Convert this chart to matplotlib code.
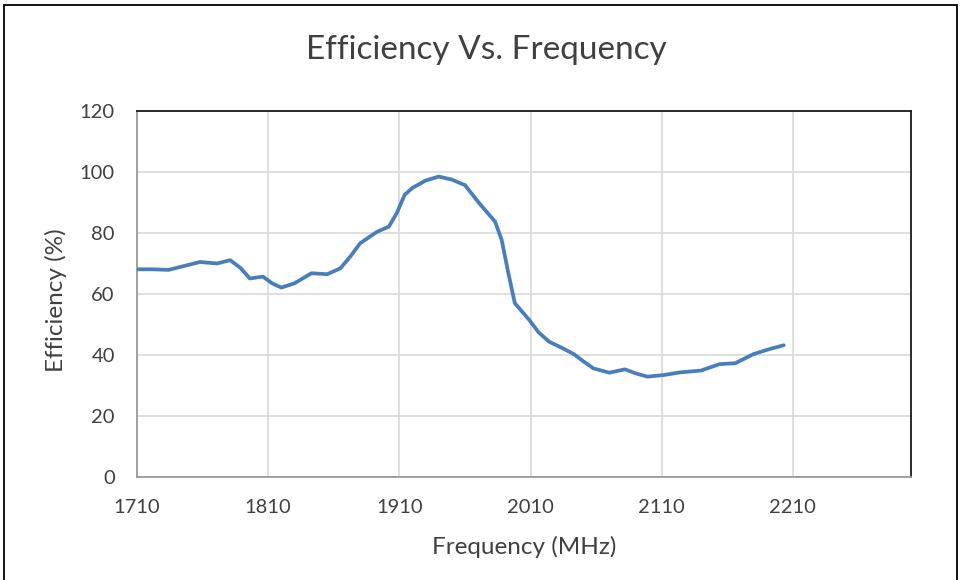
import matplotlib
matplotlib.use("Agg")
import matplotlib.pyplot as plt
from matplotlib.patches import Rectangle

freq_mhz = [1710, 1722, 1734, 1746, 1758, 1771, 1781, 1789, 1796, 1806, 1813, 1820,
            1830, 1843, 1855, 1865, 1873, 1880, 1893, 1902, 1908, 1914, 1920, 1930,
            1940, 1950, 1960, 1971, 1983, 1988, 1993, 1998, 2009, 2016, 2024, 2034,
            2043, 2050, 2058, 2070, 2082, 2090, 2099, 2111, 2124, 2140, 2154, 2166,
            2180, 2191, 2203]
efficiency = [68.1, 68.1, 67.9, 69.2, 70.5, 70.0, 71.1, 68.5, 65.1, 65.7, 63.5, 62.1,
              63.5, 66.8, 66.5, 68.4, 72.5, 76.6, 80.4, 82.1, 86.5, 92.5, 94.8, 97.2,
              98.5, 97.5, 95.7, 89.7, 83.7, 77.7, 67.0, 57.0, 51.5, 47.5, 44.4, 42.3,
              40.3, 38.0, 35.6, 34.2, 35.3, 34.0, 32.9, 33.4, 34.3, 34.9, 37.0, 37.3,
              40.3, 41.8, 43.2]
x_ticks = [1710, 1810, 1910, 2010, 2110, 2210]
y_ticks = [0, 20, 40, 60, 80, 100, 120]

plt.rcParams['font.family'] = ['Lato', 'DejaVu Sans']

W, H = 960, 580
fig = plt.figure(figsize=(W / 100, H / 100), dpi=100)
ax = fig.add_axes([137 / W, 1 - 477 / H, (911 - 137) / W, (477 - 111) / H])

ax.plot(freq_mhz, efficiency, color='#4A7EBB', lw=2.7, solid_joinstyle='round',
        solid_capstyle='round', zorder=3)

ax.set_xlim(1710, 2300)
ax.set_ylim(0, 120)
ax.set_xticks(x_ticks)
ax.set_yticks(y_ticks)
ax.grid(True, color='#D9D9D9', lw=1.2, zorder=0)
ax.set_axisbelow(True)
ax.tick_params(length=0, labelsize=14.5, colors='#404040')
ax.tick_params(axis='x', pad=15.5)
ax.tick_params(axis='y', pad=16)
for s in ['top', 'right']:
    ax.spines[s].set_color('#1a1a1a')
    ax.spines[s].set_linewidth(1.3)
for s in ['bottom', 'left']:
    ax.spines[s].set_color('#9a9a9a')
    ax.spines[s].set_linewidth(1.3)

fig.text(524 / W, 1 - 547 / H, 'Frequency (MHz)', fontsize=17.5, color='#404040',
         ha='center', va='center')
fig.text(56 / W, 1 - 300 / H, 'Efficiency (%)', fontsize=17.5, color='#404040',
         ha='center', va='center', rotation=90)
fig.text(486.5 / W, 1 - 50 / H, 'Efficiency Vs. Frequency', fontsize=24,
         color='#404040', ha='center', va='center')

fig.patches.append(Rectangle((4 / W, -0.05), (957 - 4) / W, 1 - 5 / H + 0.05,
                             transform=fig.transFigure, fill=False,
                             edgecolor='black', lw=1.3))

fig.savefig('out.png', dpi=100)
